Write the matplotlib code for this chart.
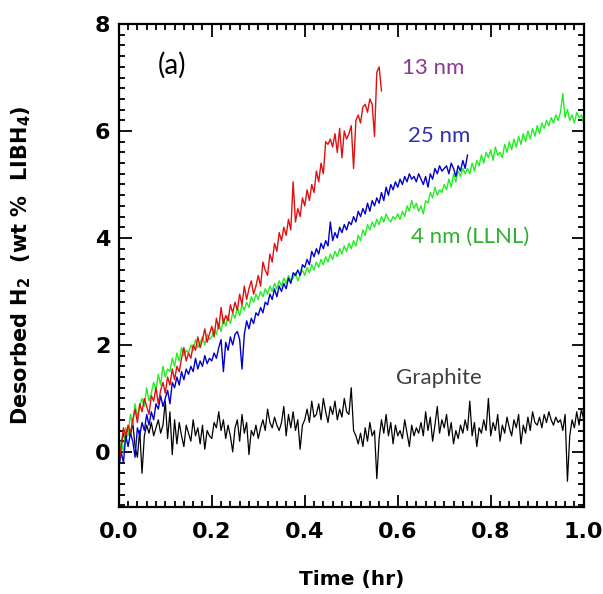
import matplotlib
matplotlib.use("Agg")
import matplotlib.pyplot as plt
import numpy as np
from matplotlib.ticker import MultipleLocator

# Desorbed H2 (wt % LiBH4), sampled every 0.005 hr
dt = 0.005

red_13nm = [
    -0.25, 0.1, 0.45, 0.3, 0.5, 0.35, 0.6, 0.8, 0.55, 0.9,
    0.75, 1.0, 0.85, 0.7, 1.05, 0.95, 1.2, 0.9, 1.15, 1.3,
    1.1, 1.4, 1.25, 1.55, 1.35, 1.6, 1.5, 1.75, 1.95, 1.7,
    1.85, 1.75, 2.0, 1.9, 2.15, 1.95, 2.1, 2.3, 2.05, 2.2,
    2.35, 2.15, 2.5, 2.3, 2.7, 2.4, 2.55, 2.45, 2.75, 2.6,
    2.8, 2.65, 2.95, 2.75, 3.1, 2.85, 3.05, 3.2, 2.95, 3.1,
    3.3, 3.1, 3.55, 3.4, 3.3, 3.7, 3.55, 3.9, 3.75, 4.1,
    3.95, 4.2, 4.05, 4.35, 4.15, 5.05, 4.3, 4.55, 4.4, 4.75,
    4.6, 4.9, 4.7, 5.0, 4.85, 5.25, 5.05, 5.4, 5.2, 5.8,
    5.75, 5.85, 5.7, 5.95, 5.6, 6.05, 5.5, 6.0, 5.85, 5.95,
    6.1, 5.3, 6.2, 6.3, 6.15, 6.45, 6.5, 6.35, 6.6, 6.5,
    5.9, 7.1, 7.2, 6.75,
]

blue_25nm = [
    -0.3, 0.0, -0.2, 0.3, 0.1, 0.35, 0.2, -0.1, 0.45, 0.3,
    0.55, 0.4, 0.7, 0.5, 0.75, 0.6, 0.9, 0.8, 1.05, 0.85,
    1.0, 1.15, 0.9, 1.3, 1.2, 1.4, 1.25, 1.5, 1.35, 1.55,
    1.45, 1.6, 1.5, 1.75, 1.55, 1.7, 1.6, 1.8, 1.65, 1.75,
    1.7, 1.85, 1.75, 1.95, 2.1, 1.5, 2.05, 1.9, 2.15, 2.0,
    2.2, 2.25, 2.1, 1.55, 2.2, 2.45, 2.3, 2.5, 2.4, 2.6,
    2.55, 2.7, 2.6, 2.8, 2.75, 2.95, 2.85, 3.05, 2.9, 3.1,
    3.0, 3.15, 3.05, 3.25, 3.15, 3.35, 3.3, 3.4, 3.3, 3.5,
    3.45, 3.6, 3.5, 3.75, 3.65, 3.8, 3.7, 3.9, 3.8, 3.95,
    3.85, 4.3, 3.95, 4.1, 4.0, 4.2, 4.1, 4.25, 4.15, 4.3,
    4.25, 4.4, 4.3, 4.5, 4.4, 4.55, 4.45, 4.65, 4.5, 4.7,
    4.6, 4.75, 4.65, 4.85, 4.7, 4.95, 4.8, 5.0, 4.9, 5.05,
    4.95, 5.1, 5.0, 5.15, 5.05, 5.2, 5.1, 5.15, 5.05, 5.2,
    5.1, 5.0, 5.15, 4.95, 5.2, 5.1, 5.3, 5.2, 5.35, 5.25,
    5.3, 5.35, 5.2, 5.4, 5.3, 5.15, 5.35, 5.25, 5.45, 5.3,
    5.55,
]

green_4nm = [
    -0.35, 0.2, 0.0, 0.45, 0.3, 0.7, 0.5, 0.9, 0.65, 0.85,
    1.0, 0.85, 1.2, 0.95, 1.1, 1.3, 1.15, 1.45, 1.25, 1.6,
    1.4, 1.55, 1.5, 1.75, 1.6, 1.85, 1.7, 1.95, 1.8, 1.9,
    1.85, 2.0, 1.9, 2.1, 1.95, 2.05, 2.15, 2.0, 2.2, 2.1,
    2.15, 2.3, 2.2, 2.4, 2.25, 2.5, 2.35, 2.55, 2.4, 2.6,
    2.5, 2.7, 2.55, 2.75, 2.65, 2.8, 2.7, 2.9, 2.8, 2.95,
    2.85, 3.0, 2.9, 3.05, 2.95, 3.1, 3.0, 3.15, 3.05, 3.2,
    3.1, 3.25, 3.15, 3.3, 3.2, 3.25, 3.35, 3.2, 3.3, 3.4,
    3.3, 3.45, 3.35, 3.5, 3.4, 3.55, 3.45, 3.6, 3.5, 3.65,
    3.55, 3.7, 3.6, 3.75, 3.65, 3.8, 3.7, 3.85, 3.75, 3.9,
    3.8, 3.95, 3.85, 4.05, 3.95, 4.15, 4.05, 4.25, 4.15, 4.3,
    4.2, 4.35, 4.25, 4.4, 4.3, 4.45, 4.35, 4.3, 4.4, 4.35,
    4.45, 4.35, 4.5, 4.4, 4.6, 4.5, 4.7, 4.55, 4.65, 4.5,
    4.6, 4.45, 4.7, 4.65, 4.85, 4.75, 4.95, 4.8, 4.9, 4.85,
    5.0, 4.9, 5.1, 4.95, 5.2, 5.05, 5.25, 5.15, 5.3, 5.2,
    5.3, 5.2, 5.4, 5.25, 5.45, 5.35, 5.55, 5.4, 5.6, 5.5,
    5.65, 5.45, 5.7, 5.55, 5.6, 5.5, 5.75, 5.6, 5.8, 5.65,
    5.85, 5.7, 5.9, 5.75, 5.95, 5.8, 6.0, 5.85, 6.05, 5.9,
    6.1, 5.95, 6.15, 6.05, 6.2, 6.1, 6.25, 6.15, 6.3, 6.2,
    6.35, 6.7, 6.25, 6.4, 6.2, 6.3, 6.15, 6.35, 6.25, 6.3,
    6.15,
]

black_graphite = [
    -0.3, 0.1, 0.35, 0.2, 0.45, 0.3, 0.55, 0.1, -0.1, 0.4,
    -0.4, 0.3, 0.5, 0.35, 0.55, 0.3, 0.45, 0.6, 0.35, 0.5,
    0.95, 0.25, 0.75, -0.05, 0.6, 0.15, 0.55, 0.3, 0.1, 0.5,
    0.35, 0.2, 0.6, 0.3, 0.45, 0.15, 0.5, 0.05, 0.4, 0.3,
    0.25, 0.55, 0.45, 0.75, 0.4, 0.6, 0.25, 0.5, 0.3, 0.0,
    0.45, 0.6, 0.2, 0.7, 0.35, 0.55, -0.05, 0.4, 0.3, 0.5,
    0.25, 0.45, 0.6, 0.4, 0.8, 0.55, 0.45, 0.65, 0.5, 0.4,
    0.55, 0.85, 0.3, 0.7, 0.45, 0.75, 0.4, 0.6, 0.05, 0.5,
    0.6, 0.8, 0.55, 0.95, 0.65, 0.7, 0.9, 0.6, 1.0, 0.75,
    0.55, 0.85, 0.7, 0.95, 0.6, 0.8, 0.65, 1.0, 0.75, 0.7,
    1.2, 0.4, 0.3, 0.15, 0.35, 0.1, 0.45, 0.2, 0.55, 0.3,
    0.4, -0.5, 0.25, 0.6, 0.35, 0.7, 0.3, 0.55, 0.15, 0.5,
    0.3, 0.4, 0.25, 0.6, 0.35, 0.1, 0.5, 0.3, 0.45, 0.35,
    0.55, 0.3, 0.75, 0.4, 0.65, 0.2, 0.5, 0.85, 0.35, 0.6,
    0.45, 0.7, 0.3, 0.55, 0.15, 0.4, 0.25, 0.5, 0.35, 0.6,
    0.4, 0.95, 0.3, 0.55, 0.1, 0.45, 0.35, 0.6, 0.4, 1.0,
    0.3, 0.55, 0.4, 0.7, 0.2, 0.5, 0.35, 0.65, 0.45, 0.3,
    0.6, 0.45, 0.7, 0.15, 0.5, 0.35, 0.65, 0.4, 0.75, 0.55,
    0.5, 0.65, 0.45, 0.7, 0.55, 0.75, 0.6, 0.5, 0.65, 0.55,
    0.6, 0.4, 0.7, -0.55, 0.3, 0.6, 0.45, 0.75, 0.5, 0.8,
    0.6,
]

labels = ["13 nm", "25 nm", "4 nm (LLNL)", "Graphite"]

plt.rcParams["font.family"] = ["DejaVu Sans"]
plt.rcParams["mathtext.fontset"] = "custom"
plt.rcParams["mathtext.rm"] = "DejaVu Sans:bold"
plt.rcParams["mathtext.default"] = "rm"

fig = plt.figure(figsize=(6.03, 5.94), dpi=100)
ax = fig.add_axes([0.197, 0.1465, 0.771, 0.813])


def times(vals):
    return np.arange(len(vals)) * dt


ax.plot(times(black_graphite), black_graphite, color="black", lw=0.9)
ax.plot(times(green_4nm), green_4nm, color="#22ee22", lw=1.0)
ax.plot(times(blue_25nm), blue_25nm, color="#0000cc", lw=1.0)
ax.plot(times(red_13nm), red_13nm, color="#e01010", lw=1.0)

ax.set_xlim(0, 1.0)
ax.set_ylim(-1.03, 8)
ax.xaxis.set_major_locator(MultipleLocator(0.2))
ax.xaxis.set_minor_locator(MultipleLocator(0.02))
ax.yaxis.set_major_locator(MultipleLocator(2))
ax.yaxis.set_minor_locator(MultipleLocator(0.2))
ax.xaxis.set_major_formatter(plt.FuncFormatter(lambda v, p: f"{v:.1f}"))

ax.tick_params(which="both", direction="in", top=True, right=True, width=1.3)
ax.tick_params(which="major", length=9)
ax.tick_params(which="minor", length=4)
ax.tick_params(axis="x", which="major", pad=11)
ax.tick_params(axis="y", which="major", pad=6)
for lab in ax.get_xticklabels() + ax.get_yticklabels():
    lab.set_fontsize(16)
    lab.set_fontweight("bold")
for sp in ax.spines.values():
    sp.set_linewidth(1.6)

ax.set_xlabel("Time (hr)", fontsize=14.5, fontweight="bold", labelpad=20)
ax.set_ylabel("Desorbed H$_2$  (wt %  LIBH$_4$)", fontsize=15, fontweight="bold")
ax.yaxis.set_label_coords(-0.185, 0.5)

tfont = ["Lato", "DejaVu Sans"]
ax.text(0.084, 7.23, "(a)", fontsize=20, color="black", family=tfont, va="center")
ax.text(0.609, 7.17, labels[0], fontsize=16, color="#8a3a8e", family=tfont, va="center")
ax.text(0.6215, 5.9, labels[1], fontsize=16, color="#3030b0", family=tfont, va="center")
ax.text(0.628, 4.02, labels[2], fontsize=16, color="#30b030", family=tfont, va="center")
ax.text(0.596, 1.38, labels[3], fontsize=16, color="#404040", family=tfont, va="center")

fig.savefig("out.png", dpi=100)
